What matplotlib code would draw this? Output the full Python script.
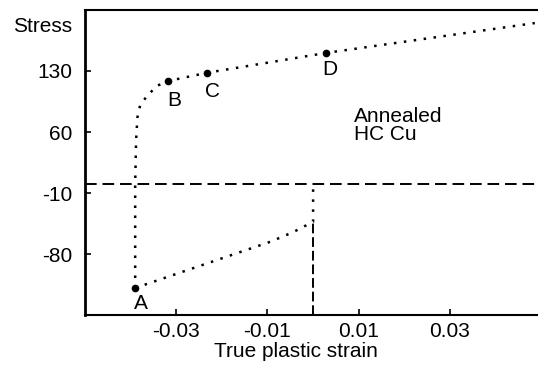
import numpy as np
import matplotlib
matplotlib.use('Agg')
import matplotlib.pyplot as plt

plt.rcParams['axes.unicode_minus'] = False

# curve (strain, stress)
# upper branch: from A straight up, knee, then through B, C, D to the edge
up_strain = [-0.0390, -0.0390, -0.0388, -0.0385, -0.0379, -0.0363, -0.0342, -0.0318, -0.0232, 0.0028, 0.0486]
up_stress = [-119, 0, 51, 77, 91, 102, 113, 118.5, 128, 150.7, 185]
# lower branch: from A back to zero strain
lo_strain = [-0.0390, -0.0094, -0.0044, 0.0, 0.0]
lo_stress = [-119, -66, -55, -43, 0]

pt_names = ['A', 'B', 'C', 'D']
pt_strain = [-0.0390, -0.0318, -0.0232, 0.0028]
pt_stress = [-119, 118.5, 128, 150.7]
pt_offset = [(4.3, -11.5), (4.3, -13.7), (3.6, -13.7), (2.9, -12.2)]

xticks = [-0.03, -0.01, 0.01, 0.03]
yticks = [130, 60, -10, -80]

font = ['Liberation Sans', 'DejaVu Sans']

fig = plt.figure(figsize=(5.38, 3.71), dpi=100)
ax = fig.add_axes([85/538, 56/371, 453/538, 305/371])
ax.set_xlim(-0.05, 0.0493)
ax.set_ylim(-150, 200)

# zero axes
ax.axhline(0, color='black', lw=1.4, ls=(0, (6, 3)))
ax.plot([0, 0], [-150, -43], color='black', lw=1.4, ls=(0, (5, 2)))

ax.plot(up_strain, up_stress, color='black', lw=1.8, ls=(0, (1, 3)))
ax.plot(lo_strain, lo_stress, color='black', lw=1.8, ls=(0, (1, 3)))

ax.plot(pt_strain, pt_stress, 'o', color='black', ms=4.5)
for name, x, y, off in zip(pt_names, pt_strain, pt_stress, pt_offset):
    ax.annotate(name, (x, y), xytext=off, textcoords='offset points',
                fontsize=15, family=font, ha='center', va='center')

ax.text(0.009, 89, 'Annealed\nHC Cu', fontsize=15, family=font,
        ha='left', va='top', linespacing=0.92)

ax.set_xticks(xticks)
ax.set_xticklabels(['%.2f' % v for v in xticks])
ax.set_yticks(yticks)
ax.tick_params(direction='in', length=4, width=1.2, labelsize=15)
ax.tick_params(axis='y', pad=9.4)
ax.tick_params(axis='x', pad=5)
for lab in ax.get_xticklabels() + ax.get_yticklabels():
    lab.set_family(font)

fig.text(296/538, 1 - 357/371, 'True plastic strain', fontsize=15, family=font,
         ha='center', va='baseline')
fig.text(13/538, 1 - 32/371, 'Stress', fontsize=15, family=font,
         ha='left', va='baseline')

ax.spines['right'].set_visible(False)
ax.spines['left'].set_linewidth(2)
for s in ['top', 'bottom']:
    ax.spines[s].set_linewidth(1.5)
    ax.spines[s].set_linestyle((0, (2, 1)))

fig.savefig('out.png', dpi=100)
